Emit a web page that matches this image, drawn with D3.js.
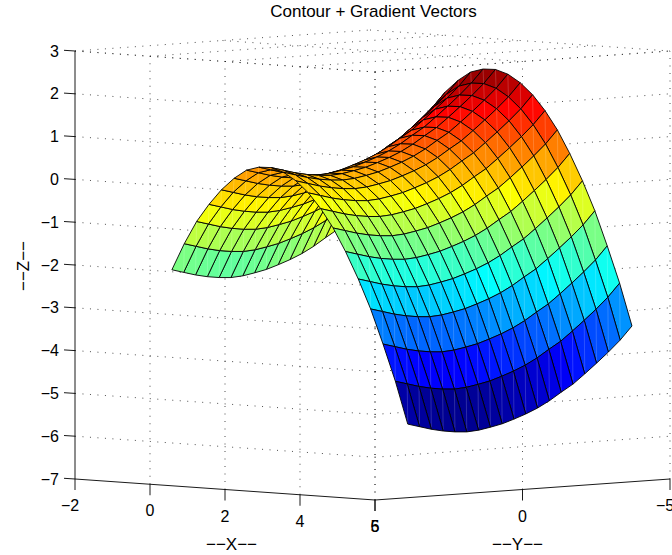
<!DOCTYPE html>
<html lang="en">
<head>
    <meta charset="UTF-8">
    <title>Contour + Gradient Vectors</title>
    <style>
        body { margin: 0; background: white; }
        svg { display: block; }
        text { font-family: "Liberation Sans", Arial, sans-serif; fill: black; }
    </style>
    <script src="https://d3js.org/d3.v7.min.js"></script>
</head>
<body>
    <div id="chart"></div>
    <script>
        // values
        const xTicks = [-2, 0, 2, 4, 6];
        const yTicks = [5, 0, -5];
        const zTicks = [3, 2, 1, 0, -1, -2, -3, -4, -5, -6, -7];

        const xGrid = [-0.36, -0.03, 0.30, 0.63, 0.96, 1.30, 1.63, 1.96, 2.29, 2.62, 2.95, 3.28, 3.61, 3.94, 4.27, 4.61, 4.94, 5.27, 5.60, 5.93];
        const yGrid = [3.8, 3.4, 3.0, 2.6, 2.2, 1.8, 1.4, 1.0, 0.6, 0.2, -0.2, -0.6, -1.0, -1.4, -1.8, -2.2, -2.6, -3.0, -3.4, -3.8];

        // the height along the x = max edge, one value per yGrid entry
        const edgeZ = [-5.29, -5.37, -5.45, -5.51, -5.55, -5.57, -5.55, -5.50, -5.44, -5.35, -5.25, -5.13, -4.98, -4.80, -4.63, -4.41, -4.18, -3.94, -3.68, -3.37];
        // rise above that edge, one value per xGrid entry
        const xRise = [3.22, 3.85, 4.39, 4.81, 5.17, 5.46, 5.67, 5.76, 5.77, 5.68, 5.50, 5.24, 4.89, 4.46, 3.93, 3.31, 2.63, 1.83, 0.98, 0];

        const zGrid = xRise.map(r => edgeZ.map(e => r + e));
        const colorLimits = [-5.57, 2.6];

        const width = 672, height = 555;

        // each data axis has its own screen direction
        const xToPx = d3.scaleLinear().domain([-2, 6]).range([0, 300]);
        const xToPy = d3.scaleLinear().domain([-2, 6]).range([0, 21]);
        const yToPx = d3.scaleLinear().domain([5, -5]).range([0, 295]);
        const yToPy = d3.scaleLinear().domain([5, -5]).range([0, -21]);
        const zToPy = d3.scaleLinear().domain([-7, 3]).range([0, -428]);

        function project(x, y, z) {
            return [75 + xToPx(x) + yToPx(y), 479 + xToPy(x) + yToPy(y) + zToPy(z)];
        }

        const jet = d3.scaleLinear()
            .domain([0, 0.125, 0.375, 0.625, 0.875, 1])
            .range(['#00008f', '#0000ff', '#00ffff', '#ffff00', '#ff0000', '#800000'])
            .clamp(true);
        const zToColor = d3.scaleLinear().domain(colorLimits).range([0, 1]);

        const svg = d3.select('#chart').append('svg')
            .attr('width', width)
            .attr('height', height);

        // dotted grid
        const gridLines = [];
        xTicks.forEach(x => {
            if (x !== -2) gridLines.push([[x, 5, -7], [x, 5, 3]]);
            gridLines.push([[x, 5, 3], [x, -5, 3]]);
        });
        yTicks.forEach(y => {
            gridLines.push([[6, y, -7], [6, y, 3]]);
            gridLines.push([[-2, y, 3], [6, y, 3]]);
        });
        zTicks.forEach(z => {
            if (z === -7) return;
            gridLines.push([[-2, 5, z], [6, 5, z]]);
            gridLines.push([[6, 5, z], [6, -5, z]]);
        });

        svg.append('g').selectAll('line')
            .data(gridLines)
            .enter().append('line')
            .attr('x1', d => project(...d[0])[0])
            .attr('y1', d => project(...d[0])[1])
            .attr('x2', d => project(...d[1])[0])
            .attr('y2', d => project(...d[1])[1])
            .attr('stroke', '#222')
            .attr('stroke-width', 0.8)
            .attr('stroke-dasharray', '1 6.5');

        // surface cells, far corner first so nearer ones paint over
        const cells = [];
        for (let i = 0; i < xGrid.length - 1; i++) {
            for (let j = yGrid.length - 2; j >= 0; j--) {
                const corner = (a, b) => project(xGrid[a], yGrid[b], zGrid[a][b]);
                cells.push({
                    a: corner(i, j),
                    b: corner(i + 1, j),
                    c: corner(i + 1, j + 1),
                    d: corner(i, j + 1),
                    z: zGrid[i + 1][j + 1]
                });
            }
        }

        const pts = list => list.map(p => p.join(',')).join(' ');

        const cell = svg.append('g').selectAll('g')
            .data(cells)
            .enter().append('g');

        cell.append('polygon')
            .attr('points', d => pts([d.a, d.b, d.c, d.d]))
            .attr('fill', d => jet(zToColor(d.z)));
        // faint light seam the original renderer leaves inside each cell
        cell.append('line')
            .attr('x1', d => d.b[0]).attr('y1', d => d.b[1])
            .attr('x2', d => d.d[0]).attr('y2', d => d.d[1])
            .attr('stroke', 'white')
            .attr('stroke-opacity', 0.25)
            .attr('stroke-width', 0.7);
        cell.append('polygon')
            .attr('points', d => pts([d.a, d.b, d.c, d.d]))
            .attr('fill', 'none')
            .attr('stroke', 'black')
            .attr('stroke-width', 0.9)
            .attr('stroke-linejoin', 'round');

        // axes
        const axes = svg.append('g').attr('stroke', 'black').attr('stroke-width', 0.9);
        const axisLine = (p, q) => axes.append('line')
            .attr('x1', p[0]).attr('y1', p[1]).attr('x2', q[0]).attr('y2', q[1]);

        axisLine(project(-2, 5, -7), project(-2, 5, 3));
        axisLine(project(-2, 5, -7), project(6, 5, -7));
        axisLine(project(6, 5, -7), project(6, -5, -7));

        const tickFont = 16;
        const label = (x, y, str, anchor) => svg.append('text')
            .attr('x', x).attr('y', y)
            .attr('text-anchor', anchor || 'middle')
            .attr('font-size', tickFont)
            .text(str);
        const fmt = v => String(v).replace('-', '\u2212');

        zTicks.forEach(z => {
            const p = project(-2, 5, z);
            axisLine(p, [p[0] - 11, p[1] - 0.7]);
            label(p[0] - 16, p[1] + 5.5, fmt(z), 'end');
        });
        xTicks.forEach(x => {
            const p = project(x, 5, -7);
            axisLine(p, [p[0], p[1] + 11]);
            label(p[0] - (x === -2 ? 5 : 0), p[1] + 32, fmt(x));
        });
        yTicks.forEach(y => {
            const p = project(6, y, -7);
            axisLine(p, [p[0], p[1] + 11]);
            label(p[0] - (y === -5 ? 5 : 0), p[1] + 32, fmt(y));
        });

        // titles
        svg.append('text').attr('x', 373.5).attr('y', 16.5)
            .attr('text-anchor', 'middle').attr('font-size', 17)
            .text('Contour + Gradient Vectors');
        svg.append('text').attr('x', 231.5).attr('y', 550)
            .attr('text-anchor', 'middle').attr('font-size', 17)
            .text('\u2212\u2212X\u2212\u2212');
        svg.append('text').attr('x', 517.5).attr('y', 550)
            .attr('text-anchor', 'middle').attr('font-size', 17)
            .text('\u2212\u2212Y\u2212\u2212');
        svg.append('text').attr('transform', 'translate(29,266) rotate(-90)')
            .attr('text-anchor', 'middle').attr('font-size', 17)
            .text('\u2212\u2212Z\u2212\u2212');
    </script>
</body>
</html>
